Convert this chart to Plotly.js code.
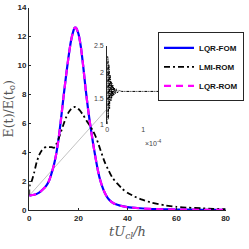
<!DOCTYPE html>
<html>
<head>
<meta charset="utf-8">
<script src="https://cdn.plot.ly/plotly-3.0.1.min.js"></script>
<style>html,body{margin:0;padding:0;background:#fff;}#chart{width:249px;height:249px;}</style>
</head>
<body>
<div id="chart"></div>
<script>
// ---- data ----
const tFOM = [0,2,4,6,7,8,9,10,11,12,13,14,15,16,17,18,18.5,19,20,21,22,23,24,25,26,27,28,29,30,31,32,33,34,35,37,40,45,50,55,60,70,80];
const eFOM = [1.0,1.05,1.2,1.5,1.7,2.0,2.5,3.1,3.9,5.0,6.4,7.9,9.3,10.6,11.7,12.4,12.6,12.6,12.2,11.3,9.9,8.3,6.9,5.7,4.6,3.6,2.7,2.0,1.5,1.1,0.82,0.63,0.5,0.41,0.3,0.2,0.12,0.07,0.05,0.03,0.015,0.01];

const tROM = [0,2,4,6,7,8,9,10,11,12,13,14,15,16,17,18,18.5,19,20,21,22,23,24,25,26,27,28,29,30,31,32,33,34,35,37,40,45,50,55,60,70,80];
const eROM = [1.0,1.05,1.2,1.5,1.7,2.0,2.5,3.1,3.9,5.0,6.4,7.9,9.3,10.6,11.7,12.4,12.6,12.6,12.2,11.3,9.9,8.3,6.9,5.7,4.6,3.6,2.7,2.0,1.5,1.1,0.82,0.63,0.5,0.41,0.3,0.2,0.12,0.07,0.05,0.03,0.015,0.01];

const tLMI = [0,0.05,0.5,1,2,3,4,5,6,7,8,9,10,10.5,11,12,13,14,15,16,17,18,18.6,19.5,20.5,22,23.6,25,26,27,28,29,30,31,32,33,34,36,38,40,43,46,50,55,60,65,70,75,80];
const eLMI = [1.0,1.65,1.8,2.0,2.6,3.3,3.8,4.1,4.3,4.35,4.35,4.35,4.3,4.35,4.55,4.95,5.45,5.95,6.4,6.75,6.98,7.1,7.12,7.05,6.9,6.55,6.1,5.75,5.45,5.1,4.65,4.15,3.65,3.2,2.85,2.5,2.2,1.8,1.45,1.2,0.92,0.72,0.5,0.33,0.22,0.16,0.12,0.08,0.06];

// inset: time in units of 1e-4
const insetT = [0,0.008,0.016,0.024,0.032,0.04,0.048,0.056,0.064,0.072,0.08,0.09,0.1,0.11,0.12,0.135,0.15,0.165,0.18,0.2,0.22,0.25,0.28,0.32,0.4,1.5];
const insetE = [1.0,2.3,1.02,2.25,1.1,2.15,1.2,2.05,1.3,1.95,1.4,1.88,1.45,1.82,1.5,1.78,1.53,1.74,1.56,1.7,1.58,1.68,1.6,1.65,1.63,1.63];

const seriesNames = ['LQR-FOM','LMI-ROM','LQR-ROM'];
const xTicks = [0,20,40,60,80];
const yTicks = [0,2,4,6,8,10,12,14];
const insetXTicks = [0,1];
const insetYTicks = [1,1.5,2,2.5];
const insetYTickText = ['1','1.5','2','2.5'];

// zoom connector: from main-plot point to inset point
const connectorFrom = [0, 1];      // main axes data
const connectorTo = [0, 1.3];      // inset axes data

// ---- layout geometry ----
const W = 249, H = 249;
const mainX = [29.3/W, 225.6/W];
const mainY = [(H-210)/H, (H-7.5)/H];
const insX = [107.3/W, 161.3/W];
const insY = [(H-124.3)/H, (H-46)/H];
const mainXR = [0,80], mainYR = [0,14];
const insXR = [0,1.5], insYR = [1,2.5];

function toPaper(v, range, dom){ return dom[0] + (v-range[0])/(range[1]-range[0])*(dom[1]-dom[0]); }

const tickFont = {family:'Liberation Sans, Arial, sans-serif', size:8, color:'#262626', weight:'bold'};
const insTickFont = {family:'Liberation Sans, Arial, sans-serif', size:7, color:'#444'};

const traces = [
  {x:tFOM, y:eFOM, name:seriesNames[0], type:'scatter', mode:'lines',
   line:{color:'#0000ff', width:2.2, shape:'spline', smoothing:0.6}, xaxis:'x', yaxis:'y'},
  {x:tLMI, y:eLMI, name:seriesNames[1], type:'scatter', mode:'lines',
   line:{color:'#000000', width:1.8, dash:'6px,3px,2px,3px', shape:'spline', smoothing:0.5}, xaxis:'x', yaxis:'y'},
  {x:tROM, y:eROM, name:seriesNames[2], type:'scatter', mode:'lines',
   line:{color:'#ff00ff', width:2.2, dash:'7px,5px', shape:'spline', smoothing:0.6}, xaxis:'x', yaxis:'y'},
  {x:insetT, y:insetE, name:'inset', showlegend:false, type:'scatter', mode:'lines',
   line:{color:'#000000', width:1, dash:'3px,1px,1px,1px'}, xaxis:'x2', yaxis:'y2'}
];

const insetYLabels = insetYTicks.map((v,i)=>({xref:'paper', yref:'y2', x:insX[0]-1.5/W, y:v, xanchor:'right', yanchor:'middle',
  text:insetYTickText[i], showarrow:false, font:insTickFont}));

const layout = {
  width:W, height:H,
  margin:{l:0,r:0,t:0,b:0},
  paper_bgcolor:'#fff', plot_bgcolor:'rgba(0,0,0,0)',
  showlegend:true,
  xaxis:{domain:mainX, range:mainXR, tickvals:xTicks, ticks:'inside', ticklen:2, tickwidth:1, tickcolor:'#262626',
         showline:true, linecolor:'#262626', linewidth:1.3, showgrid:false, zeroline:false, tickfont:tickFont,
         title:{text:'<i>tU</i><sub><i>cl</i></sub><i>/h</i>', font:{family:'DejaVu Serif, serif', size:13, color:'#555'}, standoff:5}},
  yaxis:{domain:mainY, range:mainYR, tickvals:yTicks, ticks:'inside', ticklen:2, tickwidth:1, tickcolor:'#262626',
         showline:true, linecolor:'#262626', linewidth:1.3, showgrid:false, zeroline:false, tickfont:tickFont,
         title:{text:'E(t)/E(t<sub>o</sub>)', font:{family:'DejaVu Serif, serif', size:12.5, color:'#555'}, standoff:1}},
  xaxis2:{domain:insX, range:insXR, anchor:'y2', tickvals:insetXTicks, ticks:'', showline:false, showgrid:false, zeroline:false,
          tickfont:insTickFont},
  yaxis2:{domain:insY, range:insYR, anchor:'x2', tickvals:insetYTicks, ticks:'inside', ticklen:2, tickcolor:'#262626',
          showticklabels:false, showline:true, linecolor:'#262626', linewidth:1, showgrid:false, zeroline:false},
  legend:{x:158/W, y:(H-32.3)/H, xanchor:'left', yanchor:'top', bgcolor:'#fff', bordercolor:'#262626', borderwidth:1,
          font:{family:'Liberation Sans, Arial, sans-serif', size:8, color:'#111', weight:'bold'}, itemwidth:30, tracegroupgap:0},
  shapes:[{type:'line', xref:'paper', yref:'paper',
           x0:toPaper(connectorFrom[0], mainXR, mainX), y0:toPaper(connectorFrom[1], mainYR, mainY),
           x1:toPaper(connectorTo[0], insXR, insX), y1:toPaper(connectorTo[1], insYR, insY),
           line:{color:'#999999', width:0.6}, layer:'below'}],
  annotations:[{xref:'paper', yref:'paper', x:toPaper(1, insXR, insX), y:(H-143)/H, xanchor:'left', yanchor:'middle',
                text:'×10<sup>-4</sup>', showarrow:false, font:{family:'Liberation Sans, Arial, sans-serif', size:7, color:'#444'}}]
    .concat(insetYLabels)
};

Plotly.newPlot('chart', traces, layout, {displayModeBar:false, staticPlot:true});
</script>
</body>
</html>
